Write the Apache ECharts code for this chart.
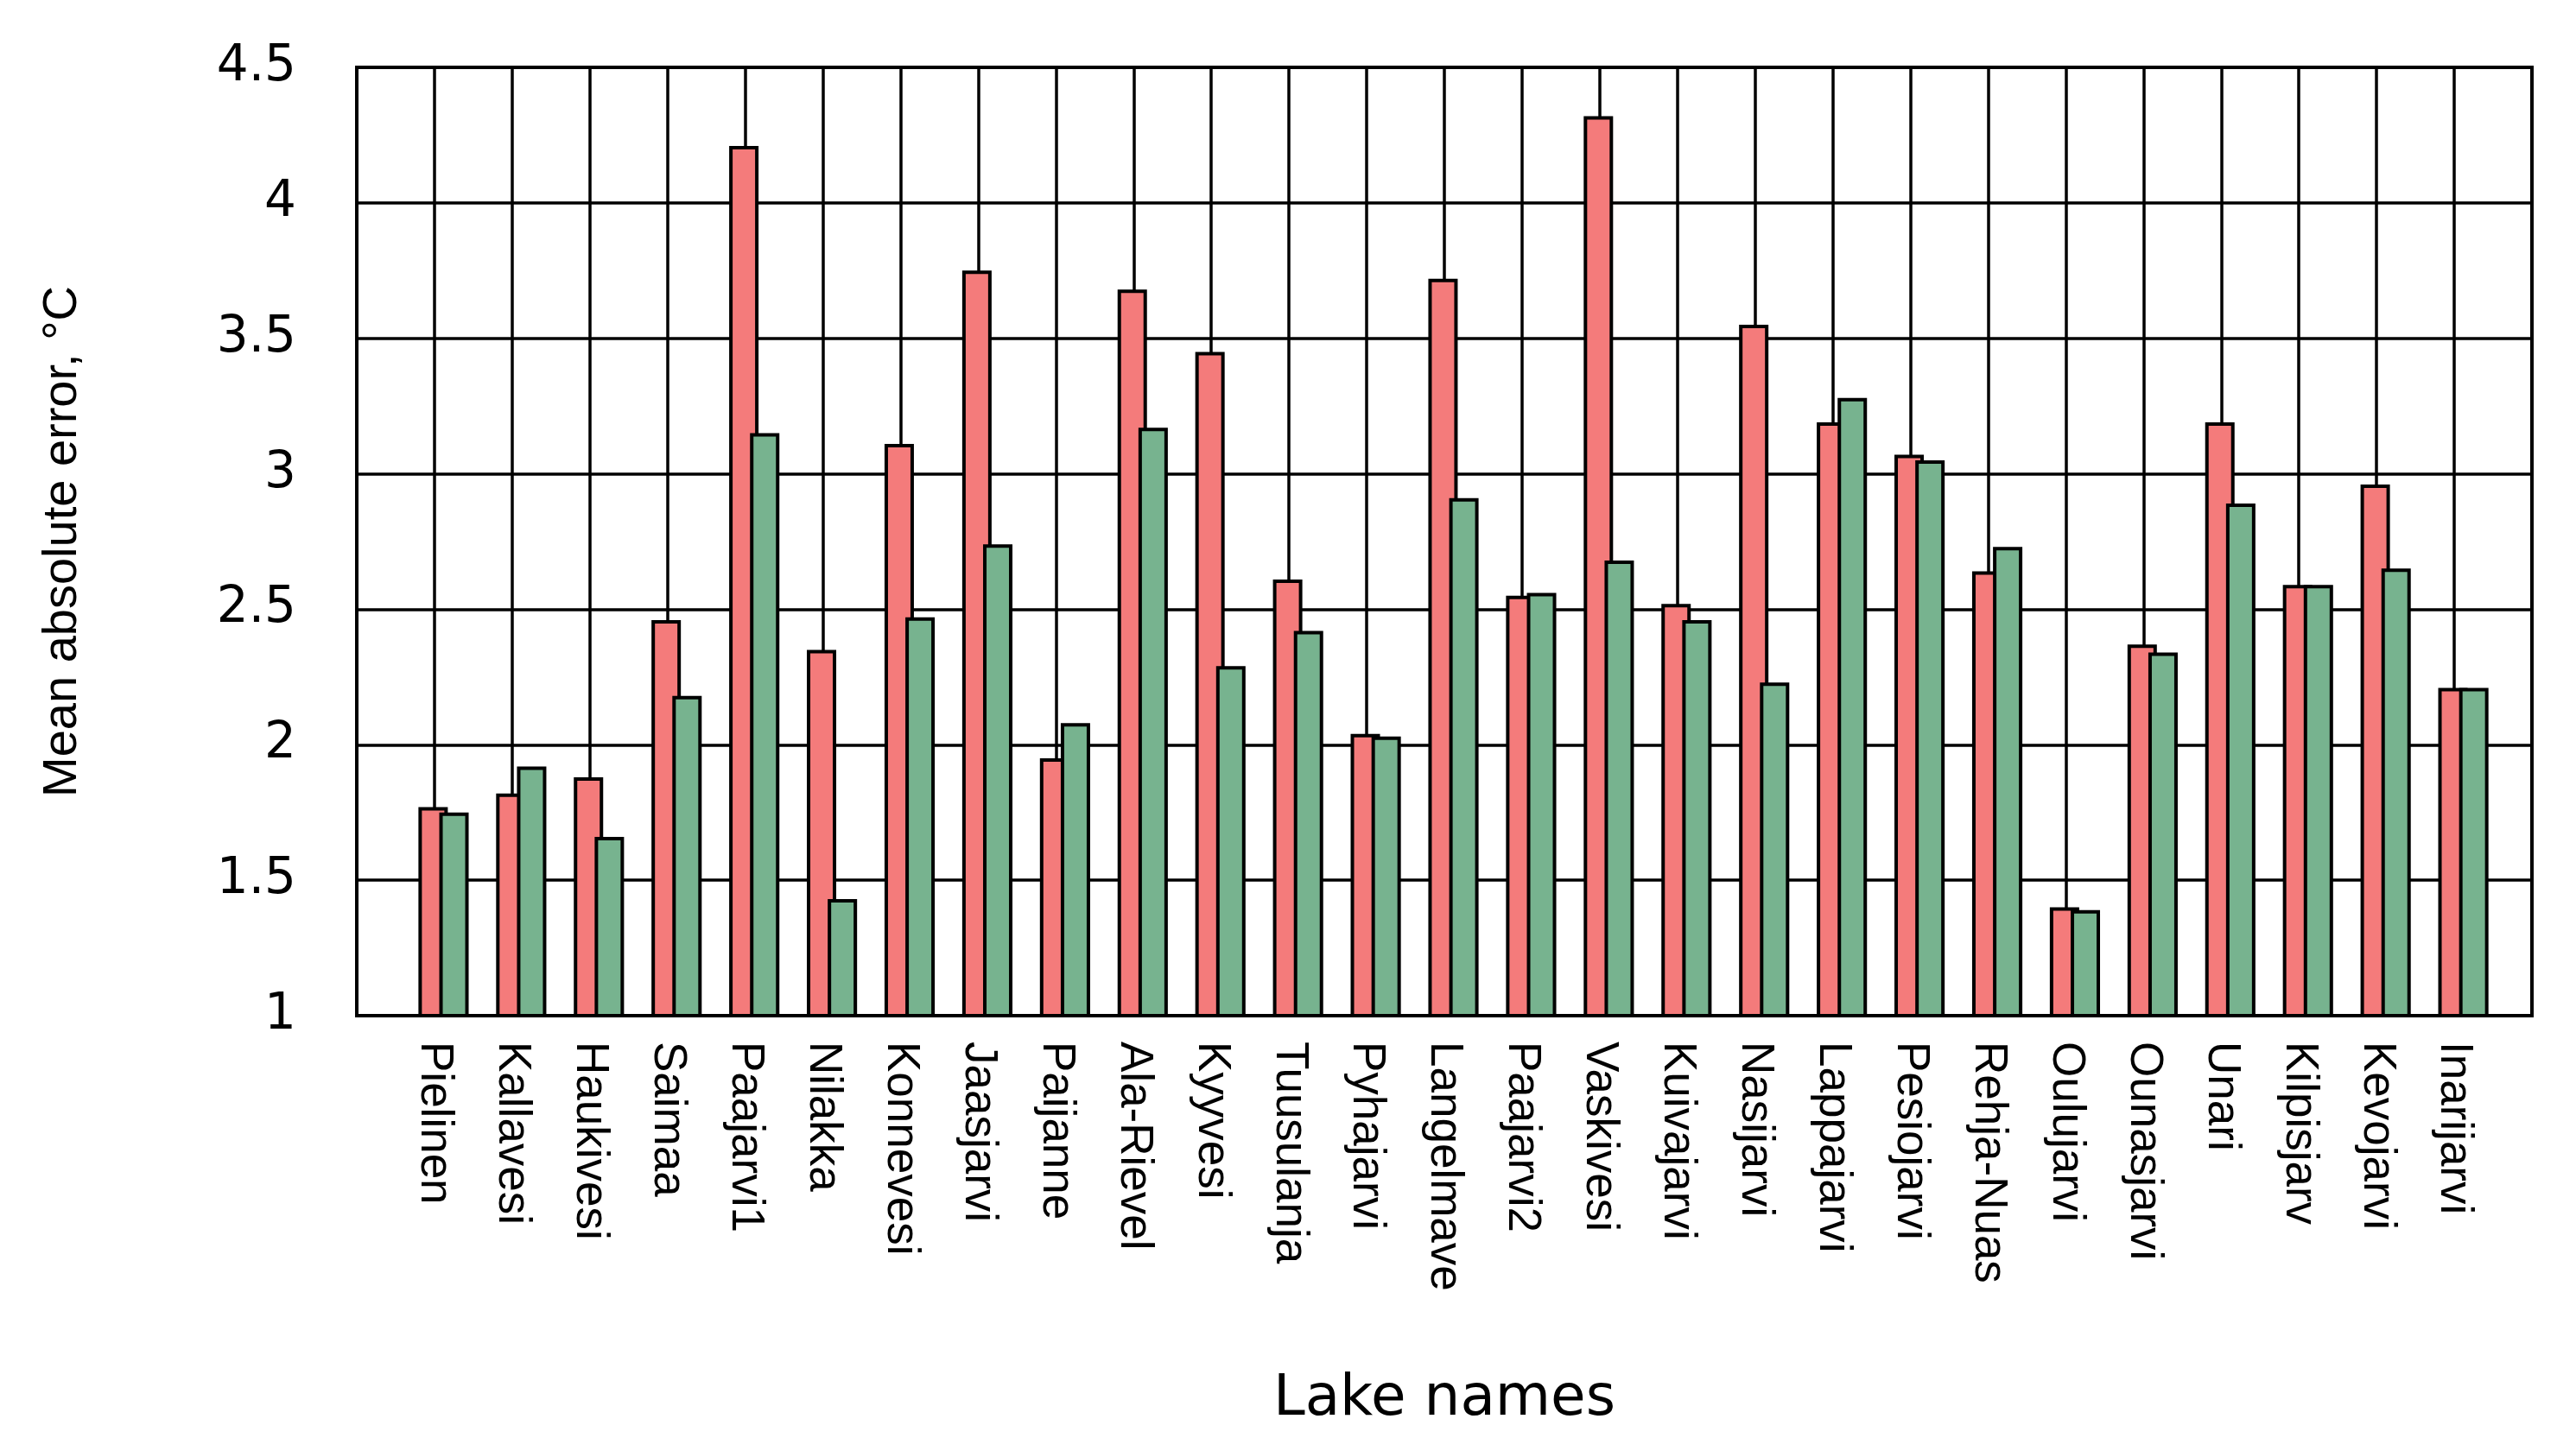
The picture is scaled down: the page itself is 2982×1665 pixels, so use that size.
<!DOCTYPE html>
<html>
<head>
<meta charset="utf-8">
<script src="https://cdn.jsdelivr.net/npm/echarts@6/dist/echarts.min.js"></script>
<style>
  html, body { margin: 0; padding: 0; background: #fff; }
  #chart { width: 2982px; height: 1665px; }
</style>
</head>
<body>
<div id="chart"></div>
<script>
// Lake names (x categories)
const lakes = ['Pielinen', 'Kallavesi', 'Haukivesi', 'Saimaa', 'Paajarvi1', 'Nilakka', 'Konnevesi',
  'Jaasjarvi', 'Paijanne', 'Ala-Rievel', 'Kyyvesi', 'Tuusulanja', 'Pyhajarvi', 'Langelmave',
  'Paajarvi2', 'Vaskivesi', 'Kuivajarvi', 'Nasijarvi', 'Lappajarvi', 'Pesiojarvi', 'Rehja-Nuas',
  'Oulujarvi', 'Ounasjarvi', 'Unari', 'Kilpisjarv', 'Kevojarvi', 'Inarijarvi'];

// Mean absolute error, red series
const errorsRed = [1.77, 1.82, 1.88, 2.46, 4.21, 2.35, 3.11, 3.75, 1.95, 3.68, 3.45, 2.61, 2.04, 3.72,
  2.55, 4.32, 2.52, 3.55, 3.19, 3.07, 2.64, 1.40, 2.37, 3.19, 2.59, 2.96, 2.21];

// Mean absolute error, green series
const errorsGreen = [1.75, 1.92, 1.66, 2.18, 3.15, 1.43, 2.47, 2.74, 2.08, 3.17, 2.29, 2.42, 2.03, 2.91,
  2.56, 2.68, 2.46, 2.23, 3.28, 3.05, 2.73, 1.39, 2.34, 2.89, 2.59, 2.65, 2.21];

// Y axis ticks
const yTicks = { min: 1, max: 4.5, step: 0.5 };

const chart = echarts.init(document.getElementById('chart'), null, { renderer: 'canvas' });

const barShift = 0.117; // hidden bar axis offset so the red bar sits on the grid line

chart.setOption({
  animation: false,
  backgroundColor: '#ffffff',
  grid: {
    left: 413, right: 51, top: 78, bottom: 489,
    show: true, borderColor: '#000', borderWidth: 4, backgroundColor: 'transparent'
  },
  xAxis: [{
    type: 'value',
    min: -1, max: lakes.length, interval: 1,
    axisLine: { show: false },
    axisTick: { show: false },
    splitLine: { show: true, lineStyle: { color: '#000', width: 3.5 } },
    axisLabel: {
      rotate: -90,
      margin: 30,
      color: '#000',
      fontFamily: 'Liberation Sans',
      fontSize: 53,
      formatter: function (v) { return lakes[v] !== undefined ? lakes[v] : ''; }
    },
    name: 'Lake names',
    nameLocation: 'middle',
    nameGap: 412,
    nameTextStyle: { color: '#000', fontFamily: 'DejaVu Sans', fontSize: 66 }
  }, {
    type: 'value',
    show: false,
    min: -1 - barShift, max: lakes.length - barShift,
    splitLine: { show: false }
  }],
  yAxis: {
    type: 'value',
    min: yTicks.min, max: yTicks.max, interval: yTicks.step,
    axisLine: { show: false },
    axisTick: { show: false },
    splitLine: { show: true, lineStyle: { color: '#000', width: 3.5 } },
    axisLabel: { margin: 70, color: '#000', fontFamily: 'DejaVu Sans', fontSize: 58 },
    name: 'Mean absolute error, °C',
    nameLocation: 'middle',
    nameRotate: 90,
    nameGap: 312,
    nameTextStyle: { color: '#000', fontFamily: 'Liberation Sans', fontSize: 56 }
  },
  series: [{
    name: 'Series A',
    type: 'bar',
    xAxisIndex: 1,
    barWidth: 34,
    barGap: '-29%',
    clip: true,
    itemStyle: { color: '#F47B7B', borderColor: '#000', borderWidth: 4 },
    data: errorsRed.map(function (v, i) { return [i, v]; })
  }, {
    name: 'Series B',
    type: 'bar',
    xAxisIndex: 1,
    barWidth: 34,
    barGap: '-29%',
    clip: true,
    itemStyle: { color: '#77B38F', borderColor: '#000', borderWidth: 4 },
    data: errorsGreen.map(function (v, i) { return [i, v]; })
  }]
});
</script>
</body>
</html>
